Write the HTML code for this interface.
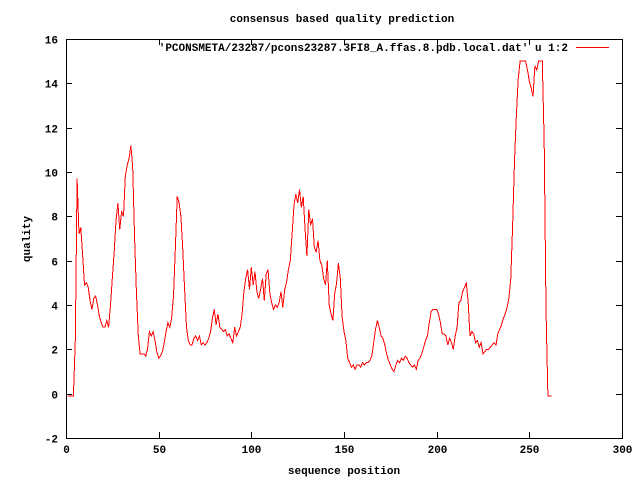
<!DOCTYPE html>
<html><head><meta charset="utf-8"><style>
html,body{margin:0;padding:0;background:#fff;}
svg text{font-family:"Liberation Mono","DejaVu Sans Mono",monospace;font-size:11px;font-weight:bold;fill:#000;}
</style></head><body>
<svg id="chart" width="640" height="480" xmlns="http://www.w3.org/2000/svg">
<rect x="0" y="0" width="640" height="480" fill="#fff"/>
<text x="342" y="22" text-anchor="middle">consensus based quality prediction</text>
<text transform="translate(30,239) rotate(-90)" text-anchor="middle">quality</text>
<text x="344" y="474" text-anchor="middle">sequence position</text>
<g id="axes" shape-rendering="crispEdges"></g>
<rect x="66.5" y="39.5" width="556" height="399" fill="none" stroke="#000" stroke-width="1" shape-rendering="crispEdges"/>
<g id="series"></g>
<g>
<text x="568" y="51" text-anchor="end">'PCONSMETA/23287/pcons23287.3FI8_A.ffas.8.pdb.local.dat' u 1:2</text>
<line x1="576" y1="47.5" x2="609" y2="47.5" stroke="#f00" stroke-width="1" shape-rendering="crispEdges"/>
</g>
</svg>
<script>
const xTicks=[0,50,100,150,200,250,300];
const yTicks=[-2,0,2,4,6,8,10,12,14,16];
const positions=[1,2,3,4,5,6,7,8,9,10,11,12,13,14,15,16,17,18,19,20,21,22,23,24,25,26,27,28,29,30,31,32,33,34,35,36,37,38,39,
40,41,42,43,44,45,46,47,48,49,50,51,52,53,54,55,56,57,58,59,60,61,62,63,64,65,66,67,68,69,70,71,72,73,74,75,76,77,78,79,
80,81,82,83,84,85,86,87,88,89,90,91,92,93,94,95,96,97,98,99,100,101,102,103,104,105,106,107,108,109,110,111,112,113,114,115,116,117,118,119,
120,121,122,123,124,125,126,127,128,129,130,131,132,133,134,135,136,137,138,139,140,141,142,143,144,145,146,147,148,149,150,151,152,153,154,155,156,157,158,159,
160,161,162,163,164,165,166,167,168,169,170,171,172,173,174,175,176,177,178,179,180,181,182,183,184,185,186,187,188,189,190,191,192,193,194,195,196,197,198,199,
200,201,202,203,204,205,206,207,208,209,210,211,212,213,214,215,216,217,218,219,220,221,222,223,224,225,226,227,228,229,230,231,232,233,234,235,236,237,238,239,
240,241,242,243,244,245,246,247,248,249,250,251,252,253,254,255,256,257,258,259,260,261,262];
const quality=[-0.1,-0.1,-0.1,-0.1,2.4,9.7,7.2,7.5,6.2,4.9,5.0,4.8,4.2,3.8,4.3,4.4,4.0,3.5,3.2,3.0,3.0,3.3,3.0,4.0,5.2,6.4,7.8,8.6,7.4,8.2,8.0,9.8,10.3,10.6,11.2,10.2,7.0,4.6,2.6,
1.8,1.8,1.8,1.7,2.0,2.8,2.6,2.8,2.4,1.9,1.6,1.7,1.9,2.3,2.8,3.2,3.0,3.4,4.4,6.5,8.9,8.6,8.0,6.5,4.7,3.0,2.4,2.2,2.2,2.5,2.6,2.4,2.6,2.2,2.3,2.2,2.3,2.5,2.8,3.4,
3.8,3.1,3.6,3.0,2.9,2.8,2.9,2.6,2.7,2.5,2.3,3.0,2.6,2.8,3.0,3.6,4.6,5.2,5.6,4.7,5.7,4.9,5.5,4.6,4.3,4.7,5.2,4.2,5.4,5.6,4.5,4.1,3.8,4.0,3.9,4.1,4.6,3.9,4.7,5.0,
5.6,6.0,7.2,8.5,9.0,8.6,9.2,8.4,8.9,7.4,6.2,8.3,7.6,7.9,6.6,6.4,6.9,6.0,5.8,5.2,4.9,6.0,4.0,3.6,3.3,4.5,5.0,5.9,5.2,3.5,2.8,2.4,1.6,1.4,1.2,1.3,1.1,1.3,1.3,1.2,
1.4,1.3,1.4,1.4,1.5,1.7,2.3,2.9,3.3,3.0,2.6,2.5,2.2,1.8,1.5,1.3,1.1,1.0,1.3,1.5,1.4,1.6,1.5,1.7,1.6,1.4,1.3,1.2,1.3,1.1,1.5,1.6,1.8,2.1,2.4,2.6,3.2,3.7,3.8,3.8,
3.8,3.6,3.2,2.7,2.7,2.6,2.2,2.5,2.3,2.0,2.6,3.0,4.1,4.2,4.6,4.8,5.0,4.1,2.6,2.8,2.7,2.3,2.4,2.1,2.3,1.8,1.9,2.0,2.0,2.1,2.2,2.3,2.2,2.7,2.9,3.1,3.4,3.6,3.9,4.3,
5.2,7.7,10.5,12.6,14.2,15.0,15.0,15.0,15.0,14.6,14.1,13.8,13.4,14.8,14.6,15.0,15.0,15.0,11.3,3.8,-0.1,-0.1,-0.1];
const X0=66,X1=622,Y0=438,Y1=39,xMin=0,xMax=300,yMin=-2,yMax=16;
function sx(v){return X0+(v-xMin)/(xMax-xMin)*(X1-X0);}
function sy(v){return Y0-(v-yMin)/(yMax-yMin)*(Y0-Y1);}
const NS='http://www.w3.org/2000/svg';
const axes=document.getElementById('axes');
function ln(x1,y1,x2,y2){const l=document.createElementNS(NS,'line');l.setAttribute('x1',x1);l.setAttribute('y1',y1);l.setAttribute('x2',x2);l.setAttribute('y2',y2);l.setAttribute('stroke','#000');return l;}
xTicks.forEach(t=>{const x=Math.round(sx(t))+0.5;
const a=ln(x,Y0,x,Y0-6);


axes.appendChild(a);
const b=ln(x,Y1,x,Y1+6);


axes.appendChild(b);
const tx=document.createElementNS(NS,'text');tx.setAttribute('x',x);tx.setAttribute('y',Y0+15);tx.setAttribute('text-anchor','middle');tx.textContent=t;


axes.appendChild(tx);});
yTicks.forEach(t=>{const y=Math.round(sy(t))+0.5;
const a=ln(X0,y,X0+6,y);


axes.appendChild(a);
const b=ln(X1,y,X1-6,y);


axes.appendChild(b);
const tx=document.createElementNS(NS,'text');tx.setAttribute('x',X0-8);tx.setAttribute('y',y+4);tx.setAttribute('text-anchor','end');tx.textContent=t;


axes.appendChild(tx);});
const pts=positions.map((p,i)=>sx(p).toFixed(1)+','+sy(quality[i]).toFixed(1)).join(' ');
const pl=document.createElementNS(NS,'polyline');
pl.setAttribute('points',pts);pl.setAttribute('fill','none');pl.setAttribute('stroke','#f00');pl.setAttribute('stroke-width','1');
pl.setAttribute('shape-rendering','crispEdges');


document.getElementById('series').appendChild(pl);
</script>
</body></html>
